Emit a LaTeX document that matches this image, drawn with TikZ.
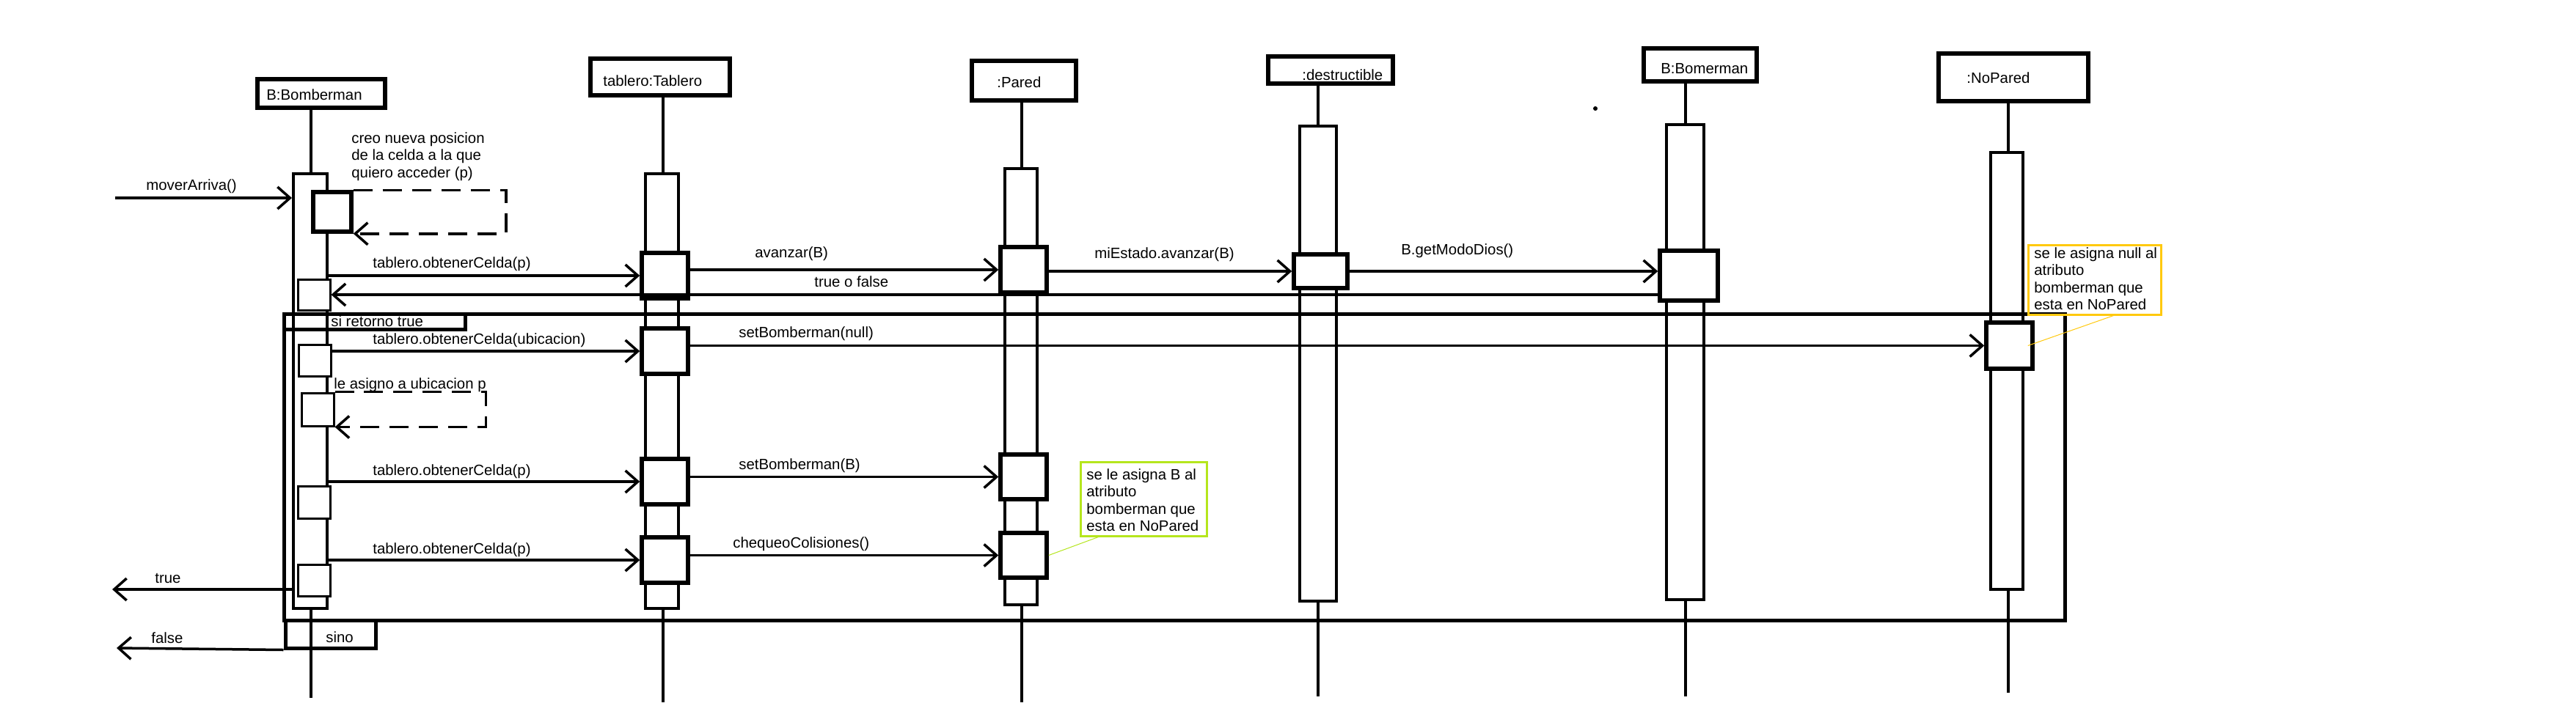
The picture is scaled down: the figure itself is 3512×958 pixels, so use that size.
\documentclass[tikz,border=0pt]{standalone}
\usepackage{fontspec}
\setmainfont{Liberation Sans}
\usetikzlibrary{arrows.meta,fit}
\definecolor{notegreen}{RGB}{181,230,29}
\definecolor{notegold}{RGB}{255,201,14}

\begin{document}
\begin{tikzpicture}[x=0.02cm,y=-0.02cm,
    every node/.style={font=\fontsize{11.6}{13.4}\selectfont},
    head/.style={draw,line width=0.12cm,inner sep=0pt},
    act/.style={draw,line width=0.08cm,inner sep=0pt,fill=white},
    call/.style={draw,line width=0.11cm,inner sep=0pt,fill=white},
    bcall/.style={draw,line width=0.06cm,inner sep=0pt,fill=white},
    life/.style={line width=0.08cm},
    msg/.style={line width=0.07cm,-{Straight Barb[length=0.34cm,width=0.6cm]}},
    selfmsg/.style={msg,dash pattern=on 0.52cm off 0.28cm},
    frame/.style={draw,line width=0.1cm,inner sep=0pt},
    lbl/.style={anchor=base west,inner sep=0pt},
    notebox/.style={draw,line width=0.06cm,inner sep=0pt},
    notetext/.style={anchor=north west,align=left,inner sep=0pt}]

    \path[use as bounding box,fill=white] (0,0) rectangle (3512,958);

    % cabeceras
    \node[head, fit={(351,108) (525,147)}] (b) {};
    \node[head, fit={(805,80) (995,130)}] (t) {};
    \node[head, fit={(1325,83) (1467,137)}] (p) {};
    \node[head, fit={(1729,77) (1899,114)}] (d) {};
    \node[head, fit={(2241,66) (2395,111)}] (b2) {};
    \node[head, fit={(2643,73) (2847,138)}] (np) {};

    \node[lbl] (tb) at (363,136) {B:Bomberman};
    \node[lbl] (tt) at (822,117) {tablero:Tablero};
    \node[lbl] (tp) at (1359,119) {:Pared};
    \node[lbl] (td) at (1775,109) {:destructible};
    \node[lbl] (tb2) at (2264,100) {B:Bomerman};
    \node[lbl] (tnp) at (2681,113) {:NoPared};

    % lineas de vida
    \coordinate (bend) at (424,952);
    \coordinate (tend) at (904,958);
    \coordinate (pend) at (1393,958);
    \coordinate (dend) at (1797,950);
    \coordinate (b2end) at (2298,950);
    \coordinate (npend) at (2738,945);
    \draw[life] (b.south -| bend) -- (bend);
    \draw[life] (t.south -| tend) -- (tend);
    \draw[life] (p.south -| pend) -- (pend);
    \draw[life] (d.south -| dend) -- (dend);
    \draw[life] (b2.south -| b2end) -- (b2end);
    \draw[life] (np.south -| npend) -- (npend);

    \node[act, fit={(400,237) (446,830)}] (ba) {};
    \node[act, fit={(880,237) (925,830)}] (ta) {};
    \node[act, fit={(1370,230) (1414,825)}] (pa) {};
    \node[act, fit={(1772,172) (1822,820)}] (da) {};
    \node[act, fit={(2272,170) (2323,818)}] (b2a) {};
    \node[act, fit={(2714,208) (2758,804)}] (na) {};

    % llamadas
    \node[call, fit={(427,262) (479,316)}] (bsc) {};
    \node[bcall, fit={(406,381) (450,423)}] (bs1) {};
    \node[bcall, fit={(407,470) (451,513)}] (bs2) {};
    \node[bcall, fit={(411,536) (455,581)}] (bsd) {};
    \node[bcall, fit={(406,663) (450,707)}] (bs3) {};
    \node[bcall, fit={(406,770) (450,813)}] (bs4) {};
    \node[call, fit={(875,345) (938,407)}] (tc1) {};
    \node[call, fit={(875,448) (938,510)}] (tc2) {};
    \node[call, fit={(875,626) (938,688)}] (tc3) {};
    \node[call, fit={(875,733) (938,795)}] (tc4) {};
    \node[call, fit={(1364,337) (1427,399)}] (pc1) {};
    \node[call, fit={(1364,620) (1427,681)}] (pc2) {};
    \node[call, fit={(1364,727) (1427,788)}] (pc3) {};
    \node[call, fit={(1764,347) (1837,393)}] (dc) {};
    \node[call, fit={(2263,342) (2342,410)}] (b2c) {};
    \node[call, fit={(2708,440) (2771,503)}] (nc) {};

    % fragmento
    \node[frame, fit={(387,428) (2815,846)}] (alt) {};
    \node[frame, fit={(387,428) (634,449)}] (si) {};
    \node[frame, fit={(389,846) (512,884)}] (sino) {};
    \node[lbl] at (451,445) {si retorno true};
    \node[lbl] at (444,876) {sino};

    \coordinate (in) at (157,270);
    \coordinate (outT) at (153,804);
    \coordinate (outF) at (159,884);

    \draw[msg] (in) -- (in -| ba.west);
    \draw[selfmsg] (bsc.north east) -- ++(208,0) |- (bsc.south east);
    \draw[msg] (ba.east |- tc1.west) -- (tc1.west);
    \draw[msg] (tc1.east |- pc1.west) -- (pc1.west);
    \draw[msg] (pc1.east |- dc.west) -- (dc.west);
    \draw[msg] (dc.east) -- (dc.east -| b2c.west);
    \draw[msg] (b2c.west |- bs1.east) -- (bs1.east);
    \draw[msg] (bs2.east |- tc2.west) -- (tc2.west);
    \draw[msg] (tc2.east |- nc.west) -- (nc.west);
    \draw[selfmsg] (bsd.north east) -- ++(206,0) |- (bsd.south east);
    \draw[msg] (ba.east |- tc3.west) -- (tc3.west);
    \draw[msg] (tc3.east |- pc2.west) -- (pc2.west);
    \draw[msg] (ba.east |- tc4.west) -- (tc4.west);
    \draw[msg] (tc4.east |- pc3.west) -- (pc3.west);
    \draw[msg] (ba.west |- outT) -- (outT);
    \draw[msg] (sino.south west) -- (outF);

    \node[lbl] at (199,259) {moverArriva()};
    \node[notetext] at (479,180) {creo nueva posicion\\de la celda a la que\\quiero acceder (p)};
    \node[lbl] at (508,365) {tablero.obtenerCelda(p)};
    \node[lbl] at (1029,351) {avanzar(B)};
    \node[lbl] at (1110,391) {true o false};
    \node[lbl] at (1492,352) {miEstado.avanzar(B)};
    \node[lbl] at (1910,347) {B.getModoDios()};
    \node[lbl] at (508,469) {tablero.obtenerCelda(ubicacion)};
    \node[lbl] at (1007,460) {setBomberman(null)};
    \node[lbl] at (455,530) {le asigno a ubicacion p};
    \node[lbl] at (508,648) {tablero.obtenerCelda(p)};
    \node[lbl] at (1007,640) {setBomberman(B)};
    \node[lbl] at (508,755) {tablero.obtenerCelda(p)};
    \node[lbl] at (999,747) {chequeoColisiones()};
    \node[lbl] at (211,795) {true};
    \node[lbl] at (206,877) {false};

    % notas
    \node[notebox, draw=notegreen, fit={(1473,630) (1645,731)}] (gn) {};
    \node[notetext] at (1481,639) {se le asigna B al\\atributo\\bomberman que\\esta en NoPared};
    \draw[notegreen, line width=0.02cm] ([xshift=0.52cm]gn.south west) -- (pc3.east);
    \node[notebox, draw=notegold, fit={(2765,334) (2946,429)}] (on) {};
    \node[notetext] at (2773,337) {se le asigna null al\\atributo\\bomberman que\\esta en NoPared};
    \draw[notegold, line width=0.02cm] ([xshift=2.36cm]on.south west) -- ([xshift=-0.18cm]nc.east);

    \fill (2175,148) circle (0.06cm);
\end{tikzpicture}
\end{document}
